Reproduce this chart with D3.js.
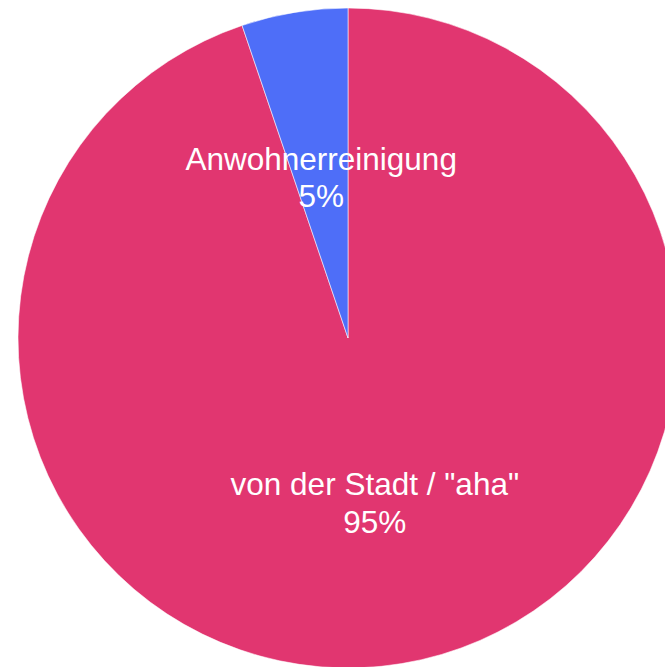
<!DOCTYPE html>
<html>
<head>
<meta charset="utf-8">
<script src="https://cdn.jsdelivr.net/npm/d3@7"></script>
<style>
  html, body { margin: 0; padding: 0; background: #fff; overflow: hidden; }
  svg { display: block; }
</style>
</head>
<body>
<svg id="chart" width="665" height="667"></svg>
<script>
const categories = ["von der Stadt / \"aha\"", "Anwohnerreinigung"];
const values = [94.8, 5.2];
const colors = ["#E13670", "#4E6EF8"];

const W = 665, H = 667;
const cx = 348, cy = 338, R = 330;
const fontSize = 31.5, lineH = 37.5;

const svg = d3.select("#chart");
const g = svg.append("g").attr("transform", `translate(${cx},${cy})`);

const data = categories.map((c, i) => ({ label: c, value: values[i], color: colors[i] }));
const total = d3.sum(values);

const pie = d3.pie().sort(null).value(d => d.value);
const arc = d3.arc().innerRadius(0).outerRadius(R);

const arcs = pie(data);

g.selectAll("path.slice")
  .data(arcs)
  .join("path")
  .attr("class", "slice")
  .attr("d", arc)
  .attr("fill", d => d.data.color)
  .attr("stroke", "#fff")
  .attr("stroke-opacity", 0.55)
  .attr("stroke-width", 1);

const capHalf = 0.716 * fontSize / 2 + 2;
const labels = g.selectAll("text.lbl")
  .data(arcs)
  .join("text")
  .attr("class", "lbl")
  .attr("text-anchor", "middle")
  .attr("fill", "#fff")
  .style("font-family", "'Liberation Sans', Arial, sans-serif")
  .style("font-size", fontSize + "px");

labels.each(function(d) {
  const [x, y] = arc.centroid(d);
  const t = d3.select(this);
  t.append("tspan")
    .attr("x", x)
    .attr("y", y - lineH / 2 + capHalf)
    .text(d.data.label);
  t.append("tspan")
    .attr("x", x)
    .attr("y", y + lineH / 2 + capHalf)
    .text(Math.round(d.data.value / total * 100) + "%");
});
</script>
</body>
</html>
